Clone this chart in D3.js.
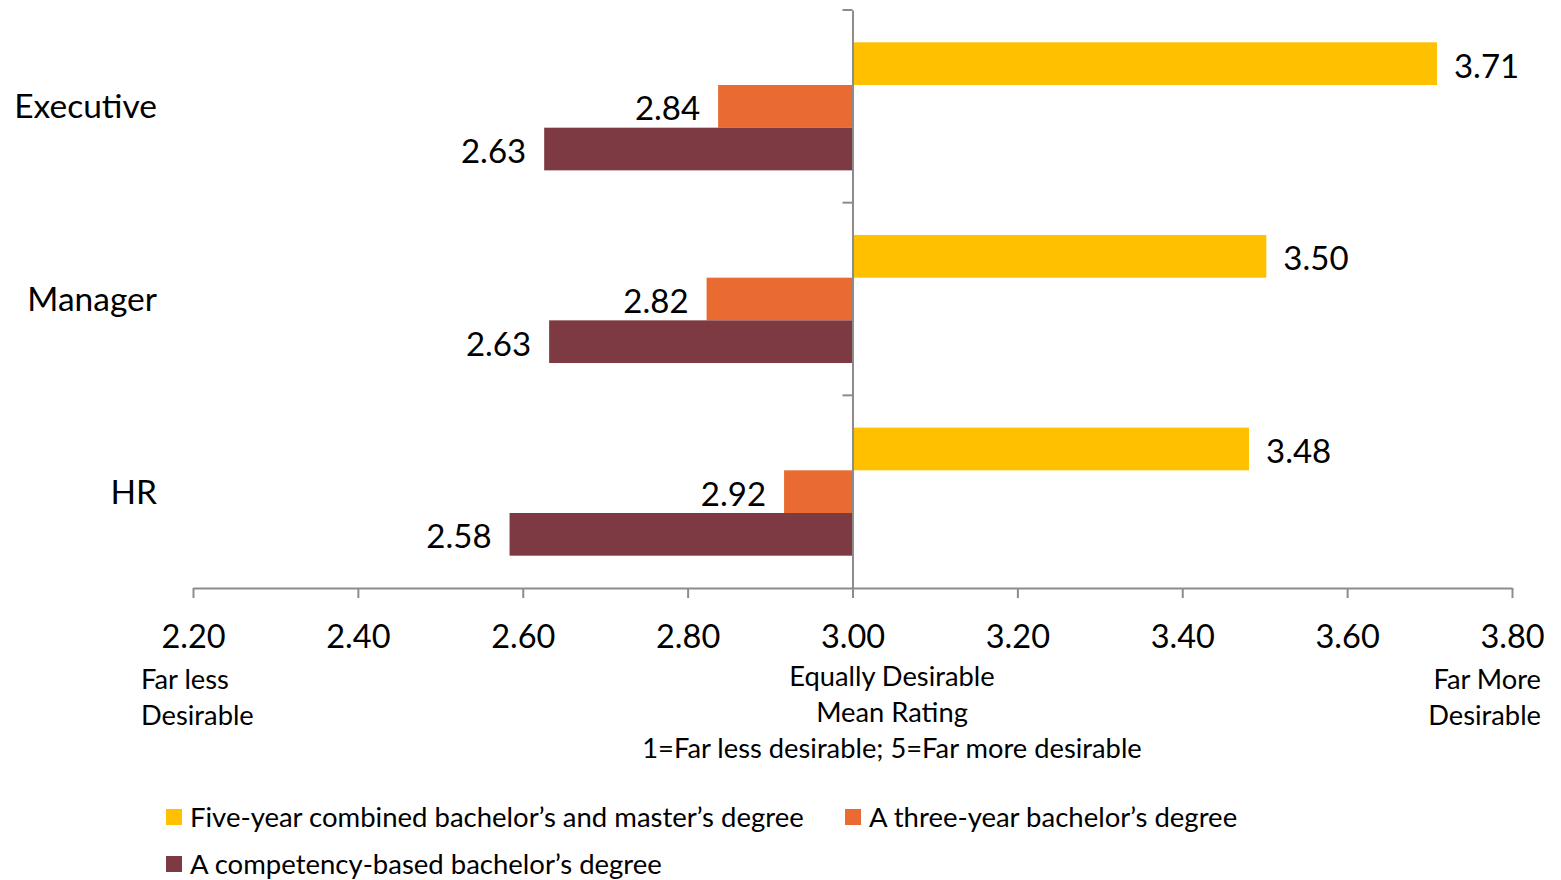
<!DOCTYPE html>
<html>
<head>
<meta charset="utf-8">
<script src="https://cdn.jsdelivr.net/npm/d3@7"></script>
<style>
  html, body { margin: 0; padding: 0; background: #fff; }
  svg { display: block; font-family: Lato, "Open Sans", sans-serif; }
</style>
</head>
<body>
<svg id="chart" width="1561" height="880"></svg>
<script>
const categories = ["Executive", "Manager", "HR"];
const seriesNames = [
  "Five-year combined bachelor\u2019s and master\u2019s degree",
  "A three-year bachelor\u2019s degree",
  "A competency-based bachelor\u2019s degree"
];
const fiveYear   = [3.709, 3.502, 3.481];
const threeYear  = [2.837, 2.823, 2.917];
const competency = [2.626, 2.632, 2.584];
const xTicks = [2.2, 2.4, 2.6, 2.8, 3.0, 3.2, 3.4, 3.6, 3.8];
const colors = ["#FFC000", "#E96B31", "#7E3A43"];

const seriesValues = [fiveYear, threeYear, competency];
const baseline = 3.0;

const svg = d3.select("#chart");
const x = d3.scaleLinear().domain([2.2, 3.8]).range([193, 1512]);
const y0 = d3.scaleBand().domain(categories).range([10, 588]).padding(0);
const y1 = d3.scaleBand().domain(seriesNames).range([0, y0.bandwidth()])
  .paddingInner(0).paddingOuter(0.757);

const axisColor = "#8c8c8c";

// bars
categories.forEach((cat, ci) => {
  const g = svg.append("g").attr("transform", `translate(0,${y0(cat)})`);
  seriesNames.forEach((s, si) => {
    const v = seriesValues[si][ci];
    const x0 = x(Math.min(v, baseline));
    const x1 = x(Math.max(v, baseline));
    g.append("rect")
      .attr("x", x0).attr("y", y1(s))
      .attr("width", x1 - x0).attr("height", y1.bandwidth())
      .attr("fill", colors[si]);
    const pos = v >= baseline;
    g.append("text")
      .attr("x", pos ? x(v) + 17 : x(v) - 18)
      .attr("y", y1(s) + y1.bandwidth() / 2 + 2)
      .attr("dy", "0.36em")
      .attr("text-anchor", pos ? "start" : "end")
      .attr("font-size", 33)
      .attr("fill", "#000")
      .text(v.toFixed(2));
  });
});

// x axis
const xAxis = d3.axisBottom(x).tickValues(xTicks).tickFormat(d3.format(".2f"))
  .tickSizeInner(10).tickSizeOuter(0).tickPadding(27);
const gx = svg.append("g").attr("transform", "translate(0,588)").call(xAxis);
gx.select(".domain").attr("stroke", axisColor).attr("stroke-width", 2);
gx.selectAll(".tick line").attr("stroke", axisColor).attr("stroke-width", 2);
gx.selectAll(".tick text").attr("font-size", 32.5).attr("font-family", "Lato, sans-serif").attr("fill", "#000");

// y axis at baseline
const yAxis = d3.axisLeft(y0).tickSizeInner(0).tickSizeOuter(0).tickFormat("");
const gy = svg.append("g").attr("transform", `translate(${x(baseline)},0)`).call(yAxis);
gy.select(".domain").attr("stroke", axisColor).attr("stroke-width", 2);
// category boundary ticks
const bounds = categories.map(c => y0(c));
gy.selectAll(".bound").data(bounds).enter().append("line")
  .attr("x1", -10).attr("x2", 0).attr("y1", d => d).attr("y2", d => d)
  .attr("stroke", axisColor).attr("stroke-width", 2);

// category labels
svg.append("g").selectAll("text").data(categories).enter().append("text")
  .attr("x", 157).attr("y", d => y0(d) + y0.bandwidth() / 2)
  .attr("dy", "0.36em").attr("text-anchor", "end")
  .attr("font-size", 33.5).attr("fill", "#000").text(d => d);

// annotations
const ann = svg.append("g").attr("font-size", 27.3).attr("fill", "#000");
ann.append("text").attr("x", 141).attr("y", 689).text("Far less");
ann.append("text").attr("x", 141).attr("y", 725).text("Desirable");
ann.append("text").attr("x", 1541).attr("y", 689).attr("text-anchor", "end").text("Far More");
ann.append("text").attr("x", 1541).attr("y", 725).attr("text-anchor", "end").text("Desirable");
ann.append("text").attr("x", 892).attr("y", 686).attr("text-anchor", "middle").text("Equally Desirable");
ann.append("text").attr("x", 892).attr("y", 722).attr("text-anchor", "middle").text("Mean Rating");
ann.append("text").attr("x", 892).attr("y", 758).attr("text-anchor", "middle").text("1=Far less desirable; 5=Far more desirable");

// legend
const legendPos = [[166, 817], [845, 817], [166, 864]];
const lg = svg.append("g");
seriesNames.forEach((s, i) => {
  const [lx, ly] = legendPos[i];
  lg.append("rect").attr("x", lx).attr("y", ly - 8).attr("width", 16).attr("height", 16).attr("fill", colors[i]);
  lg.append("text").attr("x", lx + 24).attr("y", ly).attr("dy", "0.36em")
    .attr("font-size", 27.5).attr("fill", "#000").text(s);
});
</script>
</body>
</html>
